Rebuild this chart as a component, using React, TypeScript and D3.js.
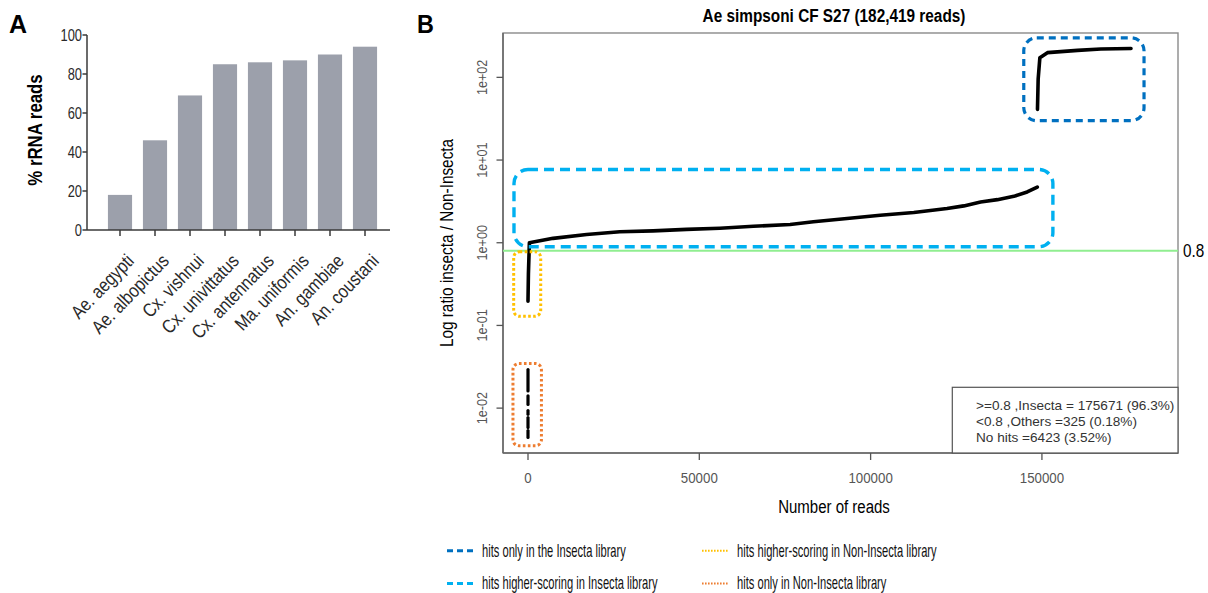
import React from "react";
import * as d3 from "d3";

// ---------------- Panel A data ----------------
const categories = [
  "Ae. aegypti",
  "Ae. albopictus",
  "Cx. vishnui",
  "Cx. univittatus",
  "Cx. antennatus",
  "Ma. uniformis",
  "An. gambiae",
  "An. coustani",
];
const rrnaPercent = [18, 46, 69, 85, 86, 87, 90, 94];
const yTicksA = [0, 20, 40, 60, 80, 100];

// ---------------- Panel B data ----------------
const totalReads = 182419;
const xTicksB = [0, 50000, 100000, 150000];
const yTicksB = [1e-2, 1e-1, 1e0, 1e1, 1e2];
const yTickLabelsB = ["1e-02", "1e-01", "1e+00", "1e+01", "1e+02"];
const threshold = 0.8;
// hits only in Non-Insecta library: broken runs of ratios at read index ~0
const nonInsectaOnlyRuns: [number, number][] = [
  [0.0293, 0.0161],
  [0.0141, 0.0111],
  [0.00933, 0.00842],
  [0.00769, 0.00582],
  [0.00536, 0.00442],
];
// hits higher-scoring in Non-Insecta library  [read index, ratio]
const higherNonInsecta: [number, number][] = [
  [0, 0.196],
  [120, 0.42],
  [325, 0.79],
];
// hits higher-scoring in Insecta library
const higherInsecta: [number, number][] = [
  [400, 1.0],
  [7300, 1.13],
  [17100, 1.26],
  [26800, 1.36],
  [36500, 1.39],
  [46300, 1.45],
  [56000, 1.5],
  [65800, 1.58],
  [76500, 1.66],
  [83300, 1.79],
  [93100, 1.96],
  [102800, 2.15],
  [112600, 2.32],
  [122300, 2.59],
  [127200, 2.79],
  [132100, 3.11],
  [137000, 3.32],
  [141800, 3.64],
  [145700, 4.11],
  [148650, 4.72],
];
// hits only in the Insecta library
const insectaOnly: [number, number][] = [
  [148700, 41],
  [148900, 95],
  [149400, 173],
  [151600, 199],
  [160400, 212],
  [167200, 220],
  [175996, 223],
];
const summaryLines = [
  ">=0.8 ,Insecta = 175671 (96.3%)",
  "<0.8 ,Others =325 (0.18%)",
  "No hits =6423 (3.52%)",
];
// annotation boxes in data units (reads, ratio)
const annotationBoxes = [
  { key: "insOnly", x0: 144700, x1: 179800, y0: 29.9, y1: 301, color: "#0070c0", dash: "7 5", width: 3.2, r: 13 },
  { key: "insHigh", x0: -4090, x1: 153200, y0: 0.895, y1: 7.69, color: "#00b0f0", dash: "10 6", width: 3.4, r: 14 },
  { key: "nonHigh", x0: -4180, x1: 3710, y0: 0.1287, y1: 0.779, color: "#ffc000", dash: "2.6 2.4", width: 3, r: 6 },
  { key: "nonOnly", x0: -4390, x1: 3920, y0: 0.00351, y1: 0.0346, color: "#ed7d31", dash: "2.6 2.4", width: 3, r: 6 },
];
const legendItems = [
  { label: "hits only in the Insecta library", color: "#0070c0", dash: "6 4", width: 3, col: 0, row: 0 },
  { label: "hits higher-scoring in Insecta library", color: "#00b0f0", dash: "6 4", width: 3, col: 0, row: 1 },
  { label: "hits higher-scoring in Non-Insecta library", color: "#ffc000", dash: "1.6 1.4", width: 2, col: 1, row: 0 },
  { label: "hits only in Non-Insecta library", color: "#ed7d31", dash: "1.6 1.4", width: 2, col: 1, row: 1 },
];

const FONT = "'Liberation Sans', Arial, Helvetica, sans-serif";

function T(props: {
  x: number;
  y: number;
  size: number;
  c?: number;
  rot?: number;
  anchor?: string;
  weight?: string;
  fill?: string;
  children: React.ReactNode;
}) {
  const { x, y, size, c = 1, rot = 0, anchor = "start", weight = "normal", fill = "#000", children } = props;
  return (
    <text
      transform={`translate(${x},${y}) rotate(${rot}) scale(${c},1)`}
      fontSize={size}
      fontFamily={FONT}
      fontWeight={weight}
      textAnchor={anchor as any}
      fill={fill}
    >
      {children}
    </text>
  );
}

function PanelA() {
  const left = 87;
  const bottom = 230;
  const top = 35;
  const x = d3.scaleBand<string>().domain(categories).range([102.5, 382.5]).paddingInner(0.31).paddingOuter(0.155);
  const y = d3.scaleLinear().domain([0, 100]).range([bottom, top]);
  const axisColor = "#3a3a3a";
  return (
    <g>
      <T x={9} y={33.3} size={25} weight="bold">A</T>
      {categories.map((c, i) => (
        <rect
          key={c}
          x={x(c)!}
          y={y(rrnaPercent[i])}
          width={x.bandwidth()}
          height={bottom - y(rrnaPercent[i])}
          fill="#9ca0ab"
        />
      ))}
      <line x1={left} x2={left} y1={top} y2={bottom} stroke={axisColor} strokeWidth={1.5} />
      <line x1={left} x2={390} y1={bottom} y2={bottom} stroke={axisColor} strokeWidth={1.5} />
      {yTicksA.map((t) => (
        <g key={t}>
          <line x1={left - 4.5} x2={left} y1={y(t)} y2={y(t)} stroke={axisColor} strokeWidth={1.5} />
          <T x={82} y={y(t) + 6} size={16.5} c={0.78} anchor="end" fill="#2a2a2a">
            {t}
          </T>
        </g>
      ))}
      {categories.map((c) => {
        const cx = x(c)! + x.bandwidth() / 2;
        return (
          <g key={c}>
            <line x1={cx} x2={cx} y1={bottom} y2={bottom + 6} stroke={axisColor} strokeWidth={1.5} />
            <T x={cx + 15} y={262} size={19} c={0.85} rot={-46} anchor="end" fill="#2a2a2a">
              {c}
            </T>
          </g>
        );
      })}
      <T x={41.5} y={130} size={21} c={0.8} rot={-90} anchor="middle" weight="bold">
        % rRNA reads
      </T>
    </g>
  );
}

function roundedRectPath(x0: number, y0: number, x1: number, y1: number, r: number) {
  const p = d3.path();
  p.moveTo(x0 + r, y0);
  p.lineTo(x1 - r, y0);
  p.arcTo(x1, y0, x1, y0 + r, r);
  p.lineTo(x1, y1 - r);
  p.arcTo(x1, y1, x1 - r, y1, r);
  p.lineTo(x0 + r, y1);
  p.arcTo(x0, y1, x0, y1 - r, r);
  p.lineTo(x0, y0 + r);
  p.arcTo(x0, y0, x0 + r, y0, r);
  p.closePath();
  return p.toString();
}

function PanelB() {
  const L = 503,
    R = 1178,
    Tp = 33,
    B = 453;
  const xPad = totalReads * 0.04;
  const x = d3.scaleLinear().domain([-xPad, totalReads + xPad]).range([L, R]);
  const allRatios = [
    ...nonInsectaOnlyRuns.flat(),
    ...higherNonInsecta.map((d) => d[1]),
    ...higherInsecta.map((d) => d[1]),
    ...insectaOnly.map((d) => d[1]),
  ];
  const lo = Math.log10(d3.min(allRatios)!);
  const hi = Math.log10(d3.max(allRatios)!);
  const pad = (hi - lo) * 0.04;
  const y = d3.scaleLog().domain([Math.pow(10, lo - pad), Math.pow(10, hi + pad)]).range([B, Tp]);
  const line = d3
    .line<[number, number]>()
    .x((d) => x(d[0]))
    .y((d) => y(d[1]));
  const mainCurve = [...higherNonInsecta, ...higherInsecta];
  const tickColor = "#555";

  return (
    <g>
      <T x={417} y={33} size={26} c={0.9} weight="bold">B</T>
      <T x={834} y={21.7} size={18.5} c={0.83} weight="bold" anchor="middle">
        Ae simpsoni CF S27 (182,419 reads)
      </T>
      {/* frame */}
      <rect x={L} y={Tp} width={R - L} height={B - Tp} fill="none" stroke="#8a8a8a" strokeWidth={1.4} />
      <line x1={L} x2={L} y1={Tp} y2={B} stroke="#666" strokeWidth={1.5} />
      <line x1={L} x2={R} y1={B} y2={B} stroke="#666" strokeWidth={1.5} />

      {/* threshold */}
      <line x1={L} x2={R} y1={y(threshold)} y2={y(threshold)} stroke="#90ee90" strokeWidth={2} />
      <T x={1183} y={y(threshold) + 6.3} size={18} c={0.85}>
        {String(threshold)}
      </T>

      {/* y axis */}
      {yTicksB.map((t, i) => (
        <g key={t}>
          <line x1={L - 6.5} x2={L} y1={y(t)} y2={y(t)} stroke={tickColor} strokeWidth={1.3} />
          <T x={486.5} y={y(t)} size={14} c={0.9} rot={-90} anchor="middle" fill={tickColor}>
            {yTickLabelsB[i]}
          </T>
        </g>
      ))}
      {/* x axis */}
      {xTicksB.map((t) => (
        <g key={t}>
          <line x1={x(t)} x2={x(t)} y1={B} y2={B + 7} stroke={tickColor} strokeWidth={1.3} />
          <T x={x(t)} y={483.3} size={14} c={0.95} anchor="middle" fill={tickColor}>
            {String(t)}
          </T>
        </g>
      ))}
      <T x={834} y={513} size={19} c={0.79} anchor="middle">
        Number of reads
      </T>
      <T x={453} y={(Tp + B) / 2} size={18.5} c={0.83} rot={-90} anchor="middle">
        Log ratio insecta / Non-Insecta
      </T>

      {/* curves */}
      {nonInsectaOnlyRuns.map((r, i) => (
        <line key={i} x1={x(0)} x2={x(0)} y1={y(r[0])} y2={y(r[1])} stroke="#000" strokeWidth={3.2} strokeLinecap="round" />
      ))}
      <path d={line(mainCurve) || ""} fill="none" stroke="#000" strokeWidth={3.6} strokeLinejoin="round" strokeLinecap="round" />
      <path d={line(insectaOnly) || ""} fill="none" stroke="#000" strokeWidth={3.6} strokeLinejoin="round" strokeLinecap="round" />

      {/* annotation boxes */}
      {annotationBoxes.map((b) => (
        <path
          key={b.key}
          d={roundedRectPath(x(b.x0), y(b.y1), x(b.x1), y(b.y0), b.r)}
          fill="none"
          stroke={b.color}
          strokeWidth={b.width}
          strokeDasharray={b.dash}
        />
      ))}

      {/* summary legend */}
      <rect x={952.3} y={387.3} width={R - 952.3} height={B - 387.3} fill="#fff" stroke="#555" strokeWidth={1.2} />
      {summaryLines.map((s, i) => (
        <T key={s} x={976} y={410 + i * 16} size={13.6} fill="#333">
          {s}
        </T>
      ))}

      {/* bottom legend */}
      {legendItems.map((it) => {
        const lx = it.col === 0 ? 447 : 702;
        const tx = it.col === 0 ? 482 : 737;
        const ly = it.row === 0 ? 550.7 : 583.4;
        return (
          <g key={it.label}>
            <line x1={lx} x2={lx + 26} y1={ly} y2={ly} stroke={it.color} strokeWidth={it.width} strokeDasharray={it.dash} />
            <T x={tx} y={ly + 6} size={18} c={0.62} fill="#111">
              {it.label}
            </T>
          </g>
        );
      })}
    </g>
  );
}

export default function App() {
  return (
    <svg
      width={1208}
      height={593}
      viewBox="0 0 1208 593"
      style={{ position: "absolute", left: 0, top: 0, background: "#fff" }}
    >
      <rect x={0} y={0} width={1208} height={593} fill="#fff" />
      <PanelA />
      <PanelB />
    </svg>
  );
}
